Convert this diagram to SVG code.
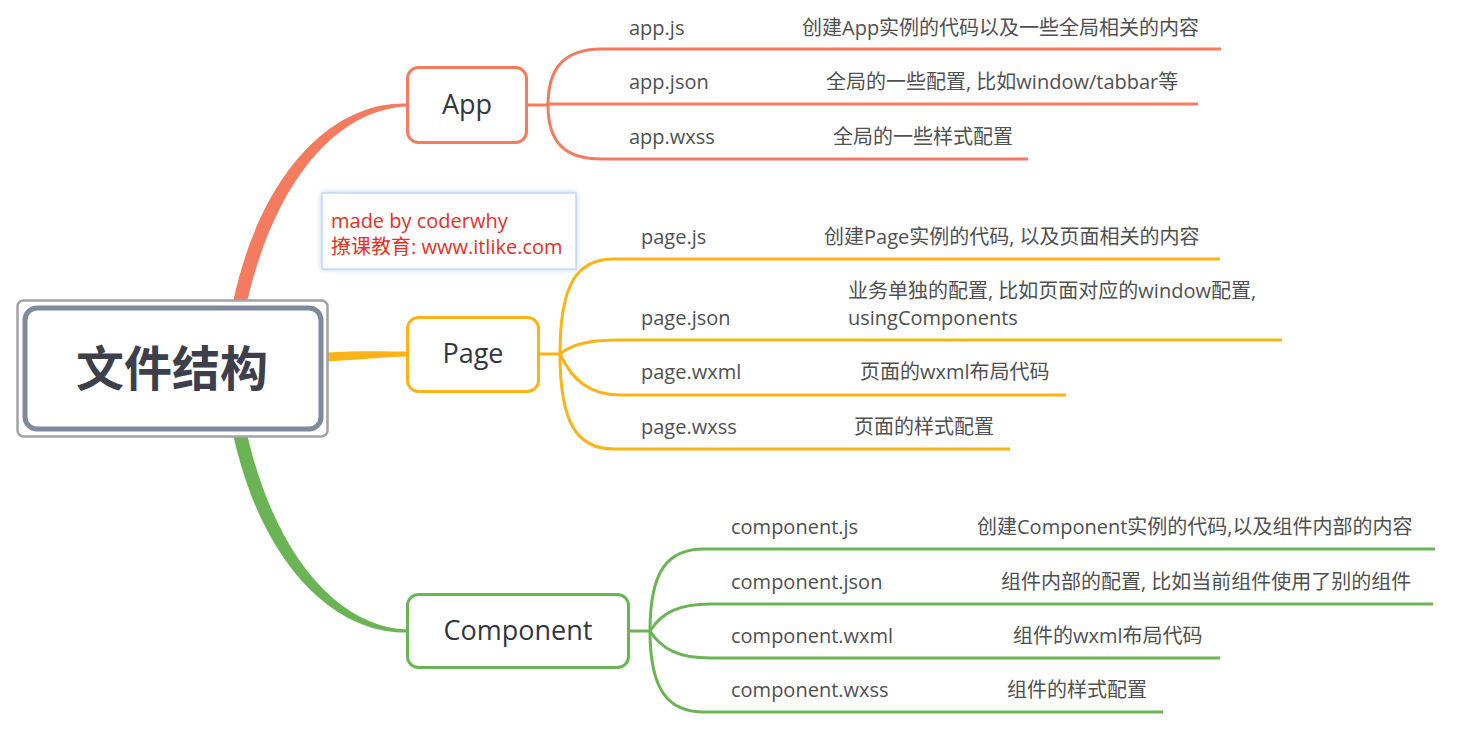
<svg xmlns="http://www.w3.org/2000/svg" width="1471" height="739" viewBox="0 0 1471 739">
<defs>
<style>
text{font-family:"Open Sans","Noto Sans CJK SC","Noto Sans",sans-serif}
.lbl{font-size:20px;fill:#505050}
.node{font-size:27px;fill:#33363f;font-weight:500}
.wm{font-size:20px;fill:#e3302a}
.box{fill:#fff;stroke-width:3}
.c1{stroke:#f47b5f}
.c2{stroke:#fcb318}
.c3{stroke:#6bb455}
.br{fill:none;stroke-width:3}
</style>
<filter id="glow" x="-10%" y="-20%" width="120%" height="140%">
<feGaussianBlur stdDeviation="3"/>
</filter>
</defs>
<rect width="1471" height="739" fill="#fff"/>
<g id="connectors">
<path d="M233,302 C261,172 333,101 407,103.5 L407,106.5 C339,109 276,178 247,302 Z" fill="#f47b5f"/>
<path d="M326,352.5 C360,350.5 385,351.5 407,351.5 L407,356.5 C385,356.5 360,360 326,361.5 Z" fill="#fcb318"/>
<path d="M233,434 C261,562 333,634 407,632.5 L407,629.5 C339,627 276,558 247,434 Z" fill="#6bb455"/>
<g class="br c1">
<path d="M527,105 H548"/>
<path d="M548,105 C548,66 566,49 602,49 H1221"/>
<path d="M548,105 V104 H1198"/>
<path d="M548,105 C548,144 566,159 602,159 H1028"/>
</g>
<g class="br c2">
<path d="M539,354 H560"/>
<path d="M560,354 C560,282 578,259 614,259 H1220"/>
<path d="M560,354 C572,344 590,340 620,340 H1282"/>
<path d="M560,354 C572,380 590,395 620,395 H1066"/>
<path d="M560,354 C560,425 578,449 614,449 H1010"/>
</g>
<g class="br c3">
<path d="M629,631 H650"/>
<path d="M650,631 C650,570 668,549 704,549 H1435"/>
<path d="M650,631 C662,612 680,604 710,604 H1433"/>
<path d="M650,631 C662,650 680,658 710,658 H1220"/>
<path d="M650,631 C650,690 668,712 704,712 H1163"/>
</g>
</g>
<g id="root">
<rect x="17.5" y="300.5" width="310" height="136" rx="6" fill="#fff" stroke="#a3a3a3" stroke-width="2.5"/>
<rect x="25" y="308" width="296" height="121" rx="12" fill="#fff" stroke="#7f899d" stroke-width="5"/>
<text x="172" y="386" text-anchor="middle" font-size="48" font-weight="bold" fill="#3d404b">文件结构</text>
</g>
<g id="watermark">
<rect x="322" y="193" width="254" height="76" fill="#aac6f4" filter="url(#glow)"/>
<rect x="322" y="193" width="254" height="76" fill="#fff" stroke="#c4d6f6" stroke-width="1.5"/>
<text class="wm" x="331" y="228">made by coderwhy</text>
<text class="wm" x="331" y="254">撩课教育: www.itlike.com</text>
</g>
<g id="app">
<rect class="box c1" x="407.5" y="67.5" width="119" height="75" rx="11"/>
<text class="node" x="467" y="114" text-anchor="middle">App</text>
</g>
<g id="page">
<rect class="box c2" x="407.5" y="317.5" width="131" height="74" rx="11"/>
<text class="node" x="473" y="363" text-anchor="middle">Page</text>
</g>
<g id="component">
<rect class="box c3" x="407.5" y="594.5" width="221" height="73" rx="11"/>
<text class="node" x="518" y="640" text-anchor="middle">Component</text>
</g>
<g id="app-js"><text class="lbl" x="629" y="35">app.js</text><text class="lbl" x="802" y="35">创建App实例的代码以及一些全局相关的内容</text></g>
<g id="app-json"><text class="lbl" x="629" y="89">app.json</text><text class="lbl" x="826" y="89">全局的一些配置, 比如window/tabbar等</text></g>
<g id="app-wxss"><text class="lbl" x="629" y="144">app.wxss</text><text class="lbl" x="833" y="144">全局的一些样式配置</text></g>
<g id="page-js"><text class="lbl" x="641" y="244">page.js</text><text class="lbl" x="824" y="244">创建Page实例的代码, 以及页面相关的内容</text></g>
<g id="page-json"><text class="lbl" x="641" y="325">page.json</text><text class="lbl" x="848" y="298">业务单独的配置, 比如页面对应的window配置,</text><text class="lbl" x="848" y="325">usingComponents</text></g>
<g id="page-wxml"><text class="lbl" x="641" y="379">page.wxml</text><text class="lbl" x="860" y="379">页面的wxml布局代码</text></g>
<g id="page-wxss"><text class="lbl" x="641" y="434">page.wxss</text><text class="lbl" x="854" y="434">页面的样式配置</text></g>
<g id="component-js"><text class="lbl" x="731" y="534">component.js</text><text class="lbl" x="977" y="534">创建Component实例的代码,以及组件内部的内容</text></g>
<g id="component-json"><text class="lbl" x="731" y="589">component.json</text><text class="lbl" x="1001" y="589">组件内部的配置, 比如当前组件使用了别的组件</text></g>
<g id="component-wxml"><text class="lbl" x="731" y="643">component.wxml</text><text class="lbl" x="1013" y="643">组件的wxml布局代码</text></g>
<g id="component-wxss"><text class="lbl" x="731" y="697">component.wxss</text><text class="lbl" x="1007" y="697">组件的样式配置</text></g>
</svg>
